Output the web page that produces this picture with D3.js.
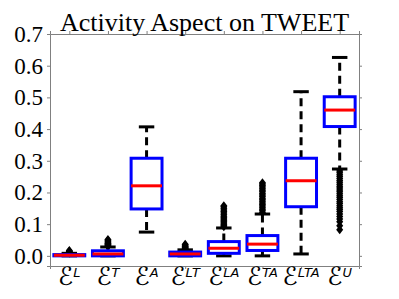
<!DOCTYPE html>
<html>
<head>
<meta charset="utf-8">
<script src="https://cdn.jsdelivr.net/npm/d3@7"></script>
<style>
body { margin: 0; background: #fff; }
</style>
</head>
<body>
<div id="chart"></div>
<script>
// categories and box stats
var categories = ["L", "T", "A", "LT", "LA", "TA", "LTA", "U"];
var whiskerLow  = [0.000, 0.000, 0.075, 0.000, 0.000, 0.000, 0.006, 0.274];
var q1          = [0.000, 0.000, 0.148, 0.000, 0.008, 0.017, 0.155, 0.408];
var medians     = [0.002, 0.006, 0.221, 0.006, 0.024, 0.037, 0.237, 0.460];
var q3          = [0.004, 0.016, 0.308, 0.012, 0.045, 0.064, 0.308, 0.502];
var whiskerHigh = [0.008, 0.028, 0.407, 0.019, 0.088, 0.132, 0.518, 0.626];
var outliers = [
    [0.009, 0.010, 0.011, 0.012, 0.013, 0.015, 0.017],
    [0.030, 0.032, 0.034, 0.036, 0.038, 0.040, 0.043, 0.046, 0.049, 0.052],
    [],
    [0.021, 0.023, 0.025, 0.027, 0.029, 0.031, 0.034, 0.037],
    [0.092, 0.096, 0.100, 0.104, 0.108, 0.112, 0.116, 0.120, 0.125, 0.130, 0.135, 0.140, 0.145, 0.150, 0.155, 0.158],
    [0.137, 0.142, 0.147, 0.152, 0.157, 0.162, 0.167, 0.172, 0.177, 0.182, 0.187, 0.192, 0.197, 0.202, 0.207, 0.212, 0.217, 0.222, 0.227, 0.231],
    [],
    [0.268, 0.262, 0.256, 0.250, 0.244, 0.238, 0.232, 0.226, 0.220, 0.214, 0.208, 0.202, 0.196, 0.190, 0.184, 0.178, 0.171, 0.165, 0.158, 0.152, 0.146, 0.140, 0.132, 0.124, 0.116, 0.108, 0.095, 0.082]
];
var yTicks = [0.0, 0.1, 0.2, 0.3, 0.4, 0.5, 0.6, 0.7];

var boxes = categories.map(function(c, i) {
    return {cat: c, lo: whiskerLow[i], q1: q1[i], med: medians[i], q3: q3[i], hi: whiskerHigh[i], out: outliers[i]};
});

var W = 399, H = 299;
var margin = {top: 34, right: 40, bottom: 33, left: 50};
var width = W - margin.left - margin.right;
var height = H - margin.top - margin.bottom;
var serif = "'Liberation Serif', 'Times New Roman', serif";

var svg = d3.select("#chart")
    .append("svg")
    .attr("width", W)
    .attr("height", H);

var g = svg.append("g")
    .attr("transform", "translate(" + margin.left + "," + margin.top + ")");

var x = d3.scalePoint()
    .domain(categories)
    .range([0, width])
    .padding(0.5);

var y = d3.scaleLinear()
    .domain([-0.032, 0.7])
    .range([height, 0]);

var boxW = x.step() * 0.8;
var capW = boxW / 2;

// axes
var spine = "#808080";
var yAxis = g.append("g")
    .call(d3.axisLeft(y).tickValues(yTicks).tickFormat(d3.format(".1f")).tickSize(3).tickPadding(4));
var yAxisR = g.append("g")
    .attr("transform", "translate(" + width + ",0)")
    .call(d3.axisRight(y).tickValues(yTicks).tickFormat("").tickSize(3));
var xAxisT = g.append("g")
    .call(d3.axisTop(x).tickFormat("").tickSize(3));
var xAxis = g.append("g")
    .attr("transform", "translate(0," + height + ")")
    .call(d3.axisBottom(x).tickFormat("").tickSize(3));

[yAxis, yAxisR, xAxisT, xAxis].forEach(function(a) {
    a.select(".domain").attr("stroke", spine).attr("stroke-width", 1);
    a.selectAll(".tick line").attr("stroke", spine);
});
yAxis.attr("font-family", null).attr("font-size", null);
yAxis.selectAll("text")
    .style("font-family", serif)
    .style("font-size", "23px")
    .attr("fill", "#000");

// bottom labels: script E with superscript
categories.forEach(function(c) {
    var t = g.append("text")
        .attr("x", x(c))
        .attr("y", height + 19)
        .attr("text-anchor", "middle")
        .attr("fill", "#000");
    t.append("tspan")
        .style("font-family", "'DejaVu Sans', sans-serif")
        .style("font-size", "25px")
        .text("\u2130");
    t.append("tspan")
        .style("font-family", "'DejaVu Sans', sans-serif")
        .style("font-size", "13px")
        .style("font-style", "italic")
        .attr("dy", -8)
        .text(c);
});

// title
svg.append("text")
    .attr("x", margin.left + width / 2)
    .attr("y", 31)
    .attr("text-anchor", "middle")
    .style("font-family", serif)
    .style("font-size", "26px")
    .attr("fill", "#000")
    .text("Activity Aspect on TWEET");

// boxes
var bg = g.selectAll(".bx")
    .data(boxes)
    .enter()
    .append("g")
    .attr("class", "bx");

// whiskers (dashed)
bg.append("line")
    .attr("x1", d => x(d.cat)).attr("x2", d => x(d.cat))
    .attr("y1", d => y(d.q3)).attr("y2", d => y(d.hi))
    .attr("stroke", "#000").attr("stroke-width", 3).attr("stroke-dasharray", "8,5");
bg.append("line")
    .attr("x1", d => x(d.cat)).attr("x2", d => x(d.cat))
    .attr("y1", d => y(d.q1)).attr("y2", d => y(d.lo))
    .attr("stroke", "#000").attr("stroke-width", 3).attr("stroke-dasharray", "8,5");

// caps
bg.append("line")
    .attr("x1", d => x(d.cat) - capW / 2).attr("x2", d => x(d.cat) + capW / 2)
    .attr("y1", d => y(d.hi)).attr("y2", d => y(d.hi))
    .attr("stroke", "#000").attr("stroke-width", 3);
bg.append("line")
    .attr("x1", d => x(d.cat) - capW / 2).attr("x2", d => x(d.cat) + capW / 2)
    .attr("y1", d => y(d.lo)).attr("y2", d => y(d.lo))
    .attr("stroke", "#000").attr("stroke-width", 3);

// outliers as diamonds
bg.each(function(d) {
    d3.select(this).selectAll("path.out")
        .data(d.out)
        .enter()
        .append("path")
        .attr("class", "out")
        .attr("d", "M0,-4.5L3.5,0L0,4.5L-3.5,0Z")
        .attr("transform", v => "translate(" + x(d.cat) + "," + y(v) + ")")
        .attr("fill", "#000");
});

// box
bg.append("rect")
    .attr("x", d => x(d.cat) - boxW / 2)
    .attr("width", boxW)
    .attr("y", d => y(d.q3))
    .attr("height", d => y(d.q1) - y(d.q3))
    .attr("fill", "none")
    .attr("stroke", "#0000ff")
    .attr("stroke-width", 3);

// median
bg.append("line")
    .attr("x1", d => x(d.cat) - boxW / 2).attr("x2", d => x(d.cat) + boxW / 2)
    .attr("y1", d => y(d.med)).attr("y2", d => y(d.med))
    .attr("stroke", "#ff0000").attr("stroke-width", 3);
</script>
</body>
</html>
